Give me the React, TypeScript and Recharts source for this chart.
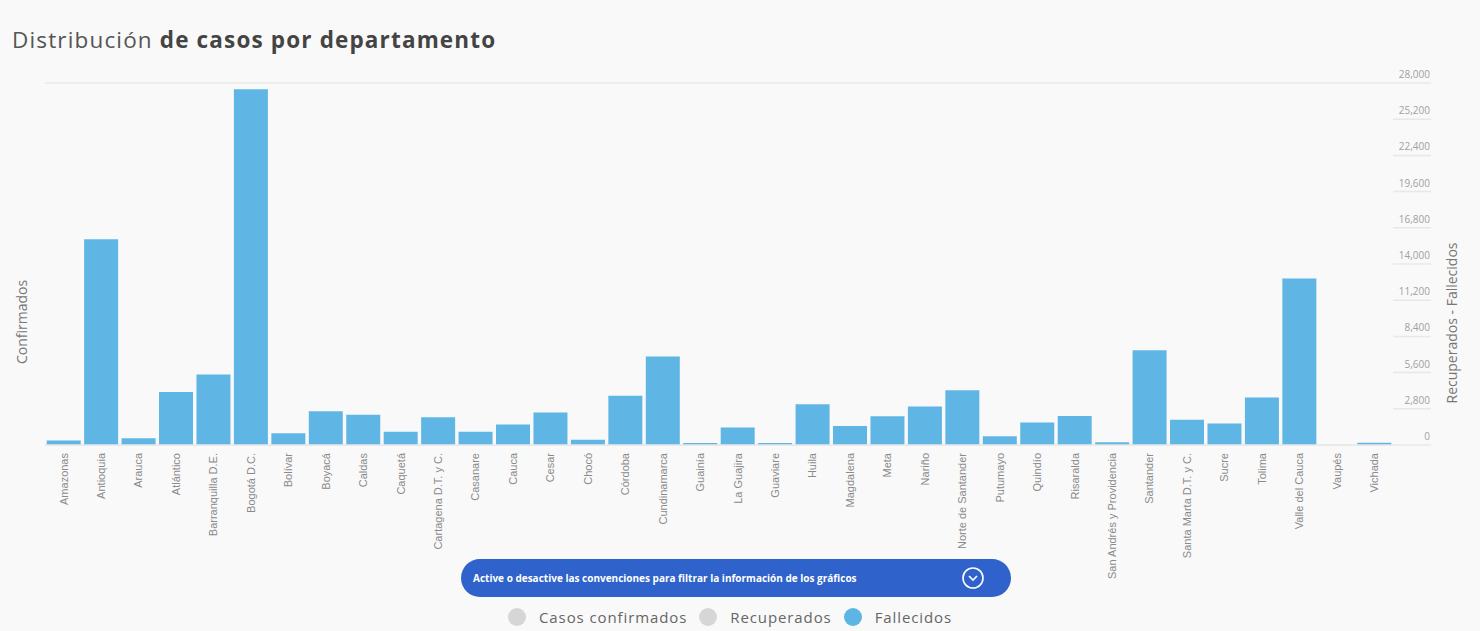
import { BarChart, Bar, XAxis, YAxis, CartesianGrid } from "recharts";

const departamentos = [
  "Amazonas", "Antioquia", "Arauca", "Atlántico", "Barranquilla D.E.", "Bogotá D.C.",
  "Bolívar", "Boyacá", "Caldas", "Caquetá", "Cartagena D.T. y C.", "Casanare",
  "Cauca", "Cesar", "Chocó", "Córdoba", "Cundinamarca", "Guainía", "La Guajira",
  "Guaviare", "Huila", "Magdalena", "Meta", "Nariño", "Norte de Santander",
  "Putumayo", "Quindío", "Risaralda", "San Andrés y Providencia", "Santander",
  "Santa Marta D.T. y C.", "Sucre", "Tolima", "Valle del Cauca", "Vaupés", "Vichada",
];

const fallecidos = [
  350, 15920, 530, 4090, 5460, 27510, 910, 2620, 2340, 1020, 2150, 1020, 1590,
  2520, 400, 3810, 6850, 150, 1350, 150, 3160, 1460, 2230, 2980, 4240, 680, 1740,
  2250, 220, 7320, 1950, 1660, 3680, 12870, 0, 170,
];

const rightTicks = [0, 2800, 5600, 8400, 11200, 14000, 16800, 19600, 22400, 25200, 28000];

const legendItems = [
  { label: "Casos confirmados", color: "#d6d6d6" },
  { label: "Recuperados", color: "#d6d6d6" },
  { label: "Fallecidos", color: "#5db5e4" },
];

const data = departamentos.map((d, i) => ({ dep: d, fallecidos: fallecidos[i] }));

const PLOT_RIGHT = 1393;

const XTick = (props: any) => {
  const { x, y, payload } = props;
  return (
    <g transform={`translate(${x},${y})`}>
      <text
        transform="rotate(-90)"
        textAnchor="end"
        dy={3.8}
        fill="#8a8a8a"
        fontSize={11}
        fontFamily="Liberation Sans, Arial, sans-serif"
      >
        {payload.value}
      </text>
    </g>
  );
};

const RightTick = (props: any) => {
  const { y, payload } = props;
  return (
    <g>
      <line x1={PLOT_RIGHT} x2={1431} y1={y} y2={y} stroke="#e8e8e8" strokeWidth={1.5} />
      <text
        x={1430}
        y={y - 5}
        textAnchor="end"
        fill="#a0a0a0"
        fontSize={10}
        fontFamily="Open Sans, sans-serif"
      >
        {payload.value.toLocaleString("en-US")}
      </text>
    </g>
  );
};

export default function App() {
  return (
    <div
      style={{
        position: "absolute",
        left: 0,
        top: 0,
        width: 1480,
        height: 631,
        background: "#f9f9f9",
        fontFamily: "Open Sans, sans-serif",
        overflow: "hidden",
      }}
    >
      <div
        style={{
          position: "absolute",
          left: 12,
          top: 24,
          fontSize: 22.5,
          letterSpacing: 1.15,
          color: "#555",
          whiteSpace: "nowrap",
        }}
      >
        Distribución <b style={{ color: "#444" }}>de casos por departamento</b>
      </div>

      <BarChart
        width={1480}
        height={631}
        data={data}
        margin={{ top: 83, right: 0, left: 0, bottom: 55 }}
        barCategoryGap="4.5%"
      >
        <CartesianGrid vertical={false} stroke="#e8e8e8" strokeWidth={1.5} />
        <XAxis
          dataKey="dep"
          interval={0}
          height={131}
          tick={<XTick />}
          tickLine={false}
          axisLine={{ stroke: "#e8e8e8", strokeWidth: 1.5 }}
        />
        <YAxis
          yAxisId="left"
          orientation="left"
          width={45}
          tick={false}
          tickLine={false}
          axisLine={false}
          label={{
            content: () => (
              <text
                x={27}
                y={322}
                transform="rotate(-90 27 322)"
                textAnchor="middle"
                fill="#777"
                fontSize={14}
                fontFamily="Open Sans, sans-serif"
              >
                Confirmados
              </text>
            ),
          }}
        />
        <YAxis
          yAxisId="right"
          orientation="right"
          width={1480 - PLOT_RIGHT}
          domain={[0, 28000]}
          ticks={rightTicks}
          tick={<RightTick />}
          tickLine={false}
          axisLine={false}
          label={{
            content: () => (
              <text
                x={1457}
                y={323}
                transform="rotate(-90 1457 323)"
                textAnchor="middle"
                fill="#777"
                fontSize={14}
                fontFamily="Open Sans, sans-serif"
              >
                Recuperados - Fallecidos
              </text>
            ),
          }}
        />
        <Bar yAxisId="right" dataKey="fallecidos" fill="#5fb6e4" isAnimationActive={false} />
      </BarChart>

      <div
        style={{
          position: "absolute",
          left: 461,
          top: 559,
          width: 550,
          height: 38,
          borderRadius: 19,
          background: "#2f62cb",
          color: "#fff",
          fontSize: 10,
          fontWeight: 700,
          display: "flex",
          alignItems: "center",
          paddingLeft: 12,
          boxSizing: "border-box",
        }}
      >
        Active o desactive las convenciones para filtrar la información de los gráficos
        <svg
          width={24}
          height={24}
          style={{ position: "absolute", left: 500, top: 7 }}
        >
          <circle cx={12} cy={12} r={10} fill="none" stroke="#fff" strokeWidth={1.6} />
          <polyline points="8,10 12,14 16,10" fill="none" stroke="#fff" strokeWidth={1.6} />
        </svg>
      </div>

      <div
        style={{
          position: "absolute",
          left: 508,
          top: 607,
          display: "flex",
          alignItems: "center",
          fontSize: 15,
          letterSpacing: 0.9,
          color: "#666",
          whiteSpace: "nowrap",
        }}
      >
        {legendItems.map((it) => (
          <div key={it.label} style={{ display: "flex", alignItems: "center", marginRight: 12 }}>
            <span
              style={{
                width: 18,
                height: 18,
                borderRadius: 9,
                background: it.color,
                display: "inline-block",
                marginRight: 13,
              }}
            />
            {it.label}
          </div>
        ))}
      </div>
    </div>
  );
}
